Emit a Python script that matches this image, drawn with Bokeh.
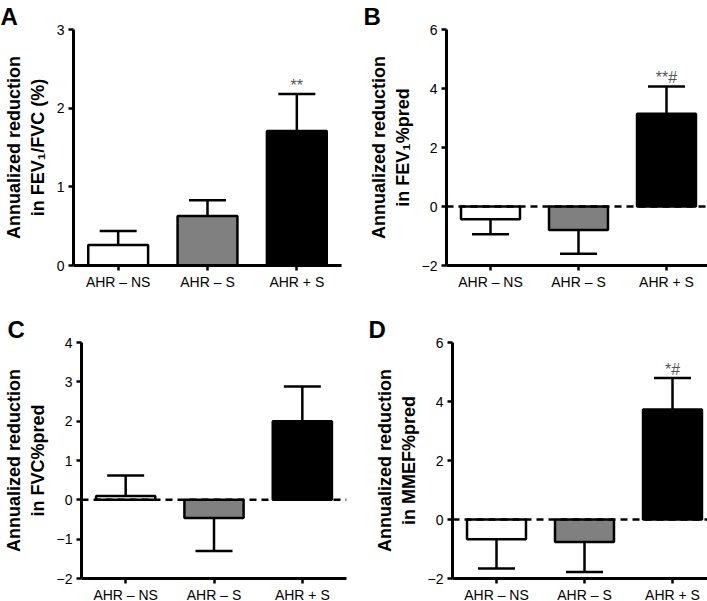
from bokeh.plotting import figure
from bokeh.models import (Range1d, FactorRange, FixedTicker, Whisker, TeeHead,
                          Span, ColumnDataSource)
from bokeh.layouts import column, row
from bokeh.embed import file_html
from bokeh.resources import INLINE
from bokeh.core.properties import value

# ---------------- data ----------------
categories = ["AHR – NS", "AHR – S", "AHR + S"]
bar_colors = ["white", "#808080", "black"]

fev1_fvc_mean = [0.26, 0.63, 1.71]
fev1_fvc_sem = [0.18, 0.20, 0.47]
fev1_fvc_sig = ["", "", "**"]
fev1_fvc_ticks = [0, 1, 2, 3]

fev1_pred_mean = [-0.43, -0.80, 3.14]
fev1_pred_sem = [0.51, 0.80, 0.93]
fev1_pred_sig = ["", "", "**#"]
fev1_pred_ticks = [-2, 0, 2, 4, 6]

fvc_pred_mean = [0.10, -0.46, 2.00]
fvc_pred_sem = [0.52, 0.84, 0.88]
fvc_pred_sig = ["", "", ""]
fvc_pred_ticks = [-2, -1, 0, 1, 2, 3, 4]

mmef_pred_mean = [-0.67, -0.76, 3.73]
mmef_pred_sem = [0.99, 1.02, 1.07]
mmef_pred_sig = ["", "", "*#"]
mmef_pred_ticks = [-2, 0, 2, 4, 6]

FONT = "Liberation Sans"


def make_panel(letter, ytitle, mean, sem, sig, yticks, fw, fh, bl, br, bt, bb,
               letter_left, zero_line):
    p = figure(x_range=FactorRange(*categories),
               y_range=Range1d(yticks[0], yticks[-1]),
               frame_width=fw, frame_height=fh,
               min_border_left=bl, min_border_right=br,
               min_border_top=bt, min_border_bottom=bb,
               output_backend="svg", toolbar_location=None, tools="")
    p.outline_line_color = None
    p.grid.visible = False
    p.background_fill_color = "white"
    p.border_fill_color = "white"

    # panel letter as the figure title, pushed left over the y-axis area
    p.title.text = letter
    p.title.align = "left"
    p.title.offset = -bl + letter_left
    p.title.standoff = 0
    p.title.text_font = FONT
    p.title.text_font_style = "bold"
    p.title.text_font_size = "24px"
    p.title.text_color = "black"

    ends = [m + (s if m >= 0 else -s) for m, s in zip(mean, sem)]
    src = ColumnDataSource(dict(cat=categories, mean=mean, end=ends,
                                color=bar_colors, sig=sig))

    if zero_line:
        p.add_layout(Span(location=0, dimension="width", line_color="black",
                          line_width=2.5, line_dash="7 5"))

    pos = [i for i, m in enumerate(mean) if m >= 0]
    neg = [i for i, m in enumerate(mean) if m < 0]
    if pos:
        sp = ColumnDataSource(dict(cat=[categories[i] for i in pos],
                                   lo=[mean[i] for i in pos],
                                   hi=[ends[i] for i in pos]))
        p.add_layout(Whisker(source=sp, base="cat", lower="lo", upper="hi",
                             upper_head=TeeHead(size=37, line_width=2.5, line_color="black"),
                             lower_head=None, line_width=2.5, line_color="black"))
    if neg:
        sn = ColumnDataSource(dict(cat=[categories[i] for i in neg],
                                   lo=[ends[i] for i in neg],
                                   hi=[mean[i] for i in neg]))
        p.add_layout(Whisker(source=sn, base="cat", lower="lo", upper="hi",
                             lower_head=TeeHead(size=37, line_width=2.5, line_color="black"),
                             upper_head=None, line_width=2.5, line_color="black"))

    p.vbar(x="cat", top="mean", bottom=0, width=0.67, source=src,
           fill_color="color", line_color="black", line_width=2.5)

    p.text(x="cat", y="end", text="sig", source=src, text_align="center",
           text_baseline="bottom", y_offset=0, text_font=value(FONT),
           text_font_size="16px", text_color="#555555")

    for ax in (p.xaxis[0], p.yaxis[0]):
        ax.axis_line_width = 3
        ax.axis_line_color = "black"
        ax.major_tick_line_width = 2.5
        ax.major_tick_line_color = "black"
        ax.major_tick_out = 5
        ax.major_tick_in = 0
        ax.minor_tick_line_color = None
        ax.major_label_text_font = FONT
        ax.major_label_text_font_size = "14px"
        ax.major_label_text_color = "black"
        ax.major_label_standoff = 4
    p.xaxis[0].major_label_standoff = 3

    ya = p.yaxis[0]
    ya.ticker = FixedTicker(ticks=yticks)
    ya.major_label_overrides = {t: str(t).replace("-", "\u2212") for t in yticks}
    ya.axis_label = ytitle
    ya.axis_label_text_font = FONT
    ya.axis_label_text_font_style = "bold"
    ya.axis_label_text_font_size = "18px"
    ya.axis_label_text_color = "black"
    ya.axis_label_standoff = 6
    return p


pA = make_panel("A", "Annualized reduction\nin FEV\u2081/FVC (%)",
                fev1_fvc_mean, fev1_fvc_sem, fev1_fvc_sig, fev1_fvc_ticks,
                268, 236, 67, 18, 22, 37, -6, False)
pB = make_panel("B", "Annualized reduction\nin FEV\u2081%pred",
                fev1_pred_mean, fev1_pred_sem, fev1_pred_sig, fev1_pred_ticks,
                264, 236, 87, 3, 22, 37, 4, True)
pC = make_panel("C", "Annualized reduction\nin FVC%pred",
                fvc_pred_mean, fvc_pred_sem, fvc_pred_sig, fvc_pred_ticks,
                265, 236, 70, 18, 40, 24, -4, True)
pD = make_panel("D", "Annualized reduction\nin MMEF%pred",
                mmef_pred_mean, mmef_pred_sem, mmef_pred_sig, mmef_pred_ticks,
                264, 236, 88, 2, 40, 24, 4, True)

layout = column(row(pA, pB), row(pC, pD))

open("out.html", "w").write(file_html(layout, INLINE))
